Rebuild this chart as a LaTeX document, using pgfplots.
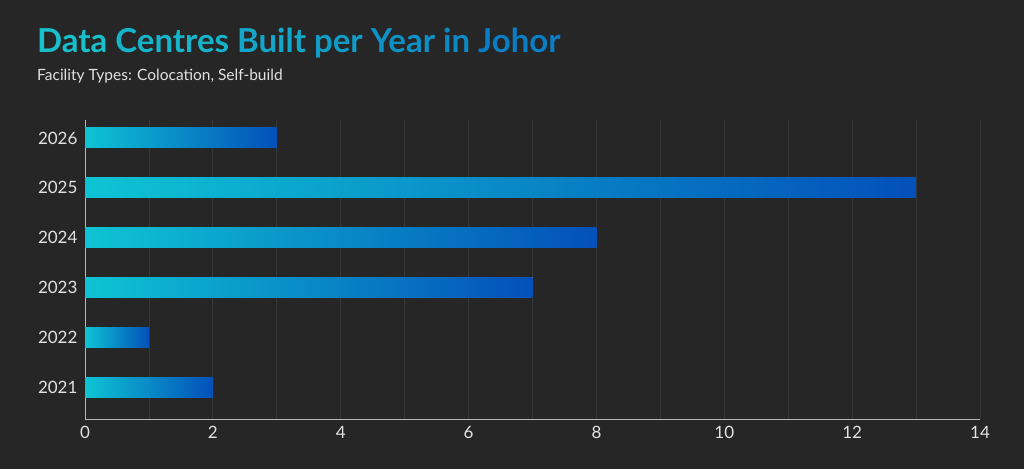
\documentclass[border=0pt]{standalone}
\usepackage{pgfplots}
\pgfplotsset{compat=1.18}
\usepackage{fontspec}
\setmainfont{Lato}
\definecolor{bg}{HTML}{262626}
\definecolor{gridc}{HTML}{363636}
\definecolor{axisc}{HTML}{B8B8B8}
\definecolor{txt}{HTML}{E2E2E2}
\definecolor{barA}{HTML}{0EC4D4}
\definecolor{barB}{HTML}{0350B9}
\definecolor{t1}{HTML}{18C0CC}
\definecolor{t2}{HTML}{15B4CA}
\definecolor{t3}{HTML}{12A6C8}
\definecolor{t4}{HTML}{109CC7}
\definecolor{t5}{HTML}{0D92C6}
\definecolor{t6}{HTML}{0B89C5}
\definecolor{t7}{HTML}{097EC4}
\begin{document}
\begin{tikzpicture}
\fill[bg] (0,0) rectangle (1024pt,-469pt);
\node[anchor=base west, inner sep=0pt] at (37pt,-52pt)
  {\fontsize{33}{36}\selectfont\bfseries\color{t1}Data \color{t2}Centres \color{t3}Built \color{t4}per \color{t5}Year \color{t6}in \color{t7}Johor};
\node[anchor=base west, inner sep=0pt, text=txt] at (37pt,-80pt)
  {\fontsize{15.5}{18}\selectfont Facility Types: Colocation, Self-build};
\begin{axis}[
  at={(85pt,-419pt)}, anchor=south west,
  scale only axis, width=895pt, height=299pt,
  xbar, bar width=20pt, bar shift=0pt,
  xmin=0, xmax=14, ymin=-0.64, ymax=5.36,
  axis x line*=bottom, axis y line*=left,
  axis line style={axisc, line width=1pt, -},
  xtick={0,2,...,14}, minor xtick={1,3,...,13},
  ytick={0,...,5}, yticklabels={2021,2022,2023,2024,2025,2026},
  xmajorgrids, xminorgrids,
  major grid style={gridc, line width=0.8pt},
  minor grid style={gridc, line width=0.8pt},
  tick style={draw=none}, major tick length=0pt, minor tick length=0pt,
  /pgf/number format/assume math mode=true,
  ticklabel style={font=\fontsize{17}{19}\selectfont, text=txt},
  xticklabel style={yshift=-4pt},
  yticklabel style={xshift=-4pt},
  every axis plot/.append style={draw=none, left color=barA, right color=barB},
]
\addplot coordinates {(2,0)};
\addplot coordinates {(1,1)};
\addplot coordinates {(7,2)};
\addplot coordinates {(8,3)};
\addplot coordinates {(13,4)};
\addplot coordinates {(3,5)};
\end{axis}
\end{tikzpicture}
\end{document}
